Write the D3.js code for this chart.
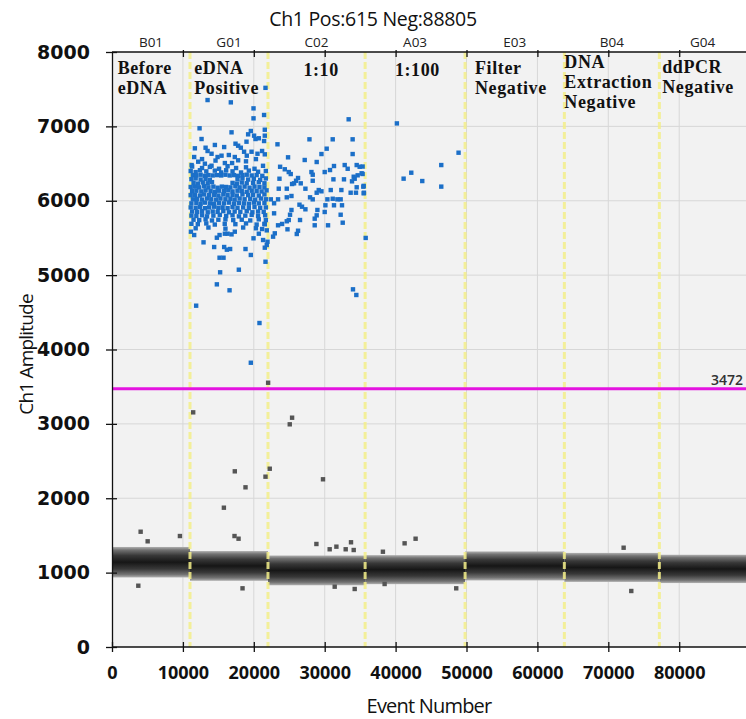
<!DOCTYPE html>
<html>
<head>
<meta charset="utf-8">
<script src="https://cdn.jsdelivr.net/npm/d3@7"></script>
<style>
  body { margin: 0; background: #fff; }
  svg { display: block; }
</style>
</head>
<body>
<svg id="chart" width="746" height="719"></svg>
<script>
// wells and their event ranges
const wells = ["B01", "G01", "C02", "A03", "E03", "B04", "G04"];
const wellEdges = [0, 11000, 22000, 35700, 49800, 63800, 77200, 89420];
// negative droplet cloud, centre and half width per well
const negCenter = [1140, 1090, 1030, 1040, 1090, 1070, 1050];
const negSpread = [205, 200, 200, 195, 195, 195, 190];
const threshold = 3472;
const posCount = 615;
const negCount = 88805;
const xTicks = [0, 10000, 20000, 30000, 40000, 50000, 60000, 70000, 80000];
const yTicks = [0, 1000, 2000, 3000, 4000, 5000, 6000, 7000, 8000];

// sample annotations written on the plot
const notes = [
  { event: 800, lines: ["Before", "eDNA"], top: 0 },
  { event: 11600, lines: ["eDNA", "Positive"], top: 0 },
  { event: 27000, lines: ["1:10"], top: 2 },
  { event: 39900, lines: ["1:100"], top: 2 },
  { event: 51200, lines: ["Filter", "Negative"], top: 0 },
  { event: 63800, lines: ["DNA", "Extraction", "Negative"], top: -6 },
  { event: 77600, lines: ["ddPCR", "Negative"], top: -1 }
];

// positive droplets [event, amplitude]
const posSparse = [
  [21650,7518],[13480,7354],[16760,7323],[19960,7242],[21450,7153],[19960,7108],[12350,6974],
  [16860,6920],[19580,6938],[19200,6893],[20040,6875],[20240,6830],[20710,6840],[21550,6955],
  [21550,6875],[21450,6803],[12630,6830],[18970,6794],[14510,6750],[17420,6767],[17790,6740],
  [18170,6713],[11690,6705],[13200,6713],[13480,6669],[14040,6632],[11590,6588],[15820,6722],
  [16480,6615],[15450,6606],[14890,6588],[18630,6659],[19010,6606],[19680,6659],[20520,6632],
  [21170,6669],[21550,6624],[17320,6588],[17790,6544],[16940,6507],[15920,6507],[12160,6525],
  [13100,6498],[14040,6471],[11230,6480],[18900,6530],[20300,6560],[12700,6560],[14600,6540]
];
const posCore = [
  [11300,6460],[12700,6440],[13800,6455],[15100,6430],[16300,6465],[17500,6440],[18900,6450],[20100,6430],[21300,6470],
  [11100,6400],[11800,6385],[12400,6410],[13300,6395],[14500,6405],[15400,6380],[16100,6410],[17000,6395],[18200,6380],[19300,6405],[20600,6390],[21700,6400],
  [11400,6345],[11900,6340],[12500,6350],[13100,6335],[13600,6345],[14200,6340],[14800,6345],[15400,6340],[16000,6350],[16600,6340],[17200,6345],[17800,6335],[18400,6345],[19000,6350],[19700,6340],[20400,6345],[21200,6335],
  [11200,6290],[11800,6300],[12500,6285],[13200,6295],[13800,6280],[17700,6290],[18400,6300],[19200,6285],[20000,6295],[20900,6280],[21700,6300],
  [11500,6240],[12100,6230],[12800,6245],[13500,6235],[14100,6250],[17000,6240],[17600,6230],[18300,6245],[19000,6235],[19900,6240],[20700,6250],[21500,6235],
  [11100,6185],[11700,6190],[12300,6180],[13000,6195],[13600,6180],[14300,6190],[14900,6175],[15500,6190],[16100,6185],[16700,6180],[17400,6195],[18000,6180],[18700,6190],[19400,6175],[20100,6190],[20800,6185],[21500,6180],
  [11300,6130],[11900,6135],[12600,6125],[13200,6140],[13900,6130],[14500,6120],[15100,6135],[15800,6130],[16400,6140],[17000,6125],[17700,6135],[18300,6130],[19000,6120],[19700,6135],[20400,6130],[21100,6125],[21800,6140],
  [11100,6075],[11700,6080],[12400,6070],[13000,6085],[13700,6075],[14400,6080],[15000,6070],[15700,6085],[16300,6075],[17000,6080],[17600,6070],[18400,6085],[19200,6075],[19900,6080],[20700,6070],[21500,6085],
  [11400,6020],[12000,6025],[12700,6015],[13400,6030],[14000,6020],[14700,6015],[15300,6030],[16000,6020],[16700,6025],[17300,6015],[18000,6030],[18700,6020],[19500,6025],[20200,6015],[21000,6030],[21700,6020],
  [11200,5965],[11900,5970],[12500,5960],[13100,5975],[13800,5965],[14400,5960],[15100,5970],[15800,5965],[16500,5975],[17200,5960],[17900,5970],[18600,5965],[19300,5960],[20000,5975],[20700,5965],[21500,5970],
  [11100,5910],[11800,5905],[12400,5915],[13100,5900],[13700,5910],[14400,5920],[15000,5905],[15600,5910],[16300,5900],[17000,5915],[17700,5905],[18500,5910],[19300,5900],[20100,5915],[20900,5905],[21700,5910],
  [11300,5855],[12000,5850],[12700,5860],[13500,5845],[14200,5855],[14900,5850],[15700,5860],[16500,5845],[17300,5855],[18100,5850],[19000,5860],[19800,5845],[20600,5855],[21400,5850],
  [11200,5800],[11900,5795],[12700,5805],[13400,5790],[14300,5800],[15200,5810],[16100,5795],[17000,5805],[17900,5790],[18800,5800],[19700,5810],[20600,5795],[21600,5805],
  [11500,5745],[12300,5740],[13200,5750],[14100,5735],[15000,5745],[16000,5750],[17100,5740],[18300,5745],[19500,5735],[20700,5750],[21700,5740],
  [11200,5690],[12100,5685],[13300,5695],[14500,5680],[15900,5690],[17400,5685],[18900,5695],[20400,5680],[21500,5690],
  [11800,5630],[13600,5640],[16000,5625],[18500,5640],[20300,5630]
];
const posLow = [
  [11130,5584],[11590,5539],[12910,5441],[14410,5378],[14790,5503],[15170,5539],[15920,5557],[16300,5557],
  [17320,5584],[16860,5548],[15820,5378],[16660,5351],[16200,5342],[15170,5234],[15730,5234],[18830,5351],
  [19580,5271],[19960,5495],[20710,5557],[21170,5620],[21550,5683],[21830,5602],[21830,5405],[21550,5369],
  [21930,5449],[21650,5180],[17890,5073],[15250,5038],[14790,4876],[16580,4796],[11870,4589],[20800,4356],
  [19580,3822],[21310,5472]
];
const posC02 = [
  [33380,7095],[23340,6759],[27850,6826],[31130,6826],[33940,6826],[30280,6700],[29540,6628],[33940,6628],
  [24830,6584],[27180,6548],[28870,6521],[32820,6480],[33240,6430],[34510,6480],[34930,6457],[35210,6369],
  [34650,6342],[34090,6323],[23710,6457],[24370,6423],[24930,6386],[25210,6359],[28130,6386],[28310,6350],
  [30000,6386],[30750,6413],[31310,6467],[23620,6296],[26240,6306],[25960,6269],[25680,6234],[25400,6225],
  [28310,6269],[31230,6288],[32720,6288],[34230,6296],[33850,6261],[35450,6189],[34510,6181],[23520,6162],
  [24650,6162],[26620,6234],[27280,6162],[29160,6144],[28870,6108],[29540,6127],[30850,6144],[32350,6144],
  [33660,6108],[34410,6108],[35540,6108],[25310,6064],[24650,6046],[27930,6046],[28310,6019],[22400,6019],
  [23420,6019],[30380,6019],[31130,6027],[31790,6019],[32250,6019],[26440,5947],[26800,5920],[27280,5885],
  [25310,5876],[28970,5876],[30100,5939],[31310,5939],[32440,5939],[22860,5966],[22860,5831],[25110,5812],
  [24930,5741],[24650,5724],[28870,5804],[28590,5759],[30000,5849],[32250,5812],[23420,5670],[23990,5688],
  [26520,5741],[28590,5670],[30470,5670],[32540,5705],[22960,5562],[24750,5616],[26240,5597],[26060,5553],
  [22720,5517],[35350,6460],[35350,6360],[35500,6200],[35500,6100],[35780,5500],[33990,4809],[34460,4733]
];
const posA03 = [
  [40180,7040],[48880,6646],[46440,6480],[42210,6377],[41130,6297],[43760,6265],[46440,6190]
];

// negative droplets outside the main cloud [event, amplitude]
const negOutliers = [
  [22020,3553],[11450,3155],[25400,3083],[25070,2994],[17320,2362],[22250,2397],[21650,2290],
  [18830,2147],[29760,2255],[15780,1873],[4040,1550],[5030,1421],[9580,1492],[17280,1492],
  [17850,1456],[28830,1385],[30700,1314],[31650,1349],[32960,1314],[33710,1408],[34090,1304],
  [38210,1281],[41270,1394],[42820,1456],[72160,1335],[3710,824],[18410,789],[31410,811],
  [34230,780],[38450,847],[48550,789],[73240,753]
];

const svg = d3.select("#chart");
const x = d3.scaleLinear().domain([0, wellEdges[wellEdges.length - 1]]).range([112, 746]);
const y = d3.scaleLinear().domain([0, 8000]).range([647, 52]);

// plot background
svg.append("rect")
  .attr("x", x(0)).attr("y", y(8000))
  .attr("width", x.range()[1] - x(0)).attr("height", y(0) - y(8000))
  .attr("fill", "#f2f2f2");

// gridlines
svg.append("g").selectAll("line").data(yTicks.slice(1, -1)).join("line")
  .attr("x1", x(0)).attr("x2", 746)
  .attr("y1", d => y(d)).attr("y2", d => y(d))
  .attr("stroke", "#d7d7d7").attr("stroke-width", 1);
svg.append("g").selectAll("line").data(xTicks.slice(1)).join("line")
  .attr("x1", d => x(d)).attr("x2", d => x(d))
  .attr("y1", y(8000)).attr("y2", y(0))
  .attr("stroke", "#d7d7d7").attr("stroke-width", 1);

// gradient for the negative cloud
const grad = svg.append("defs").append("linearGradient")
  .attr("id", "negGrad").attr("x1", 0).attr("y1", 0).attr("x2", 0).attr("y2", 1);
[[0, "#b0b0b0"], [0.1, "#727272"], [0.28, "#383838"], [0.5, "#161616"], [0.72, "#383838"], [0.9, "#727272"], [1, "#b0b0b0"]]
  .forEach(s => grad.append("stop").attr("offset", s[0]).attr("stop-color", s[1]));

svg.append("g").selectAll("rect").data(wells).join("rect")
  .attr("x", (d, i) => x(wellEdges[i]))
  .attr("width", (d, i) => x(wellEdges[i + 1]) - x(wellEdges[i]))
  .attr("y", (d, i) => y(negCenter[i] + negSpread[i]))
  .attr("height", (d, i) => y(negCenter[i] - negSpread[i]) - y(negCenter[i] + negSpread[i]))
  .attr("fill", "url(#negGrad)");

// well dividers
svg.append("g").selectAll("line").data(wellEdges.slice(1, -1)).join("line")
  .attr("x1", d => x(d)).attr("x2", d => x(d))
  .attr("y1", y(8000)).attr("y2", y(0))
  .attr("stroke", "#f4ef8a").attr("stroke-width", 3)
  .attr("stroke-dasharray", "7,3").attr("opacity", 0.85);

// droplets
const s = 4.4;
svg.append("g").selectAll("rect").data(negOutliers).join("rect")
  .attr("x", d => x(d[0]) - s / 2).attr("y", d => y(d[1]) - s / 2)
  .attr("width", s).attr("height", s).attr("fill", "#555");

const positives = posSparse.concat(posCore, posLow, posC02, posA03);
svg.append("g").selectAll("rect").data(positives).join("rect")
  .attr("x", d => x(d[0]) - s / 2).attr("y", d => y(d[1]) - s / 2)
  .attr("width", s).attr("height", s).attr("fill", "#1b6fc8");

// threshold
svg.append("line")
  .attr("x1", x(0)).attr("x2", 746)
  .attr("y1", y(threshold)).attr("y2", y(threshold))
  .attr("stroke", "#e414e0").attr("stroke-width", 3);
svg.append("text")
  .attr("x", 743).attr("y", y(threshold) - 4)
  .attr("text-anchor", "end")
  .attr("font-family", "Open Sans").attr("font-weight", 600).attr("font-size", 14)
  .attr("fill", "#333")
  .text(threshold);

// axes
const xAxis = svg.append("g").attr("transform", `translate(0,${y(0)})`)
  .call(d3.axisBottom(x).tickValues(xTicks).tickFormat(d3.format("d")).tickSizeOuter(0).tickPadding(13));
xAxis.select(".domain").attr("d", `M${x(0)},0H746`).attr("stroke", "#111").attr("stroke-width", 1.3);
xAxis.selectAll(".tick line").attr("y1", -5).attr("y2", 5).attr("stroke", "#111").attr("stroke-width", 1.3);
xAxis.selectAll("text")
  .attr("font-family", "Open Sans").attr("font-weight", 700).attr("font-size", 18).attr("fill", "#111");

const yAxis = svg.append("g").attr("transform", `translate(${x(0)},0)`)
  .call(d3.axisLeft(y).tickValues(yTicks).tickFormat(d3.format("d")).tickSizeOuter(0).tickPadding(16));
yAxis.select(".domain").attr("stroke", "#111").attr("stroke-width", 1.3);
yAxis.selectAll(".tick line").attr("x1", -6).attr("x2", 5).attr("stroke", "#111").attr("stroke-width", 1.3);
yAxis.selectAll("text")
  .attr("font-family", "DejaVu Sans").attr("font-weight", 700).attr("font-size", 19).attr("fill", "#111");

const topAxis = svg.append("g").attr("transform", `translate(0,${y(8000)})`)
  .call(d3.axisTop(x).tickValues(xTicks.slice(1)).tickFormat("").tickSizeOuter(0));
topAxis.select(".domain").attr("d", `M${x(0)},0H746`).attr("stroke", "#111").attr("stroke-width", 1.3);
topAxis.selectAll(".tick line").attr("y1", -2).attr("y2", 5).attr("stroke", "#111").attr("stroke-width", 1.3);

// well names above the plot
svg.append("g").selectAll("text").data(wells).join("text")
  .attr("x", (d, i) => x((wellEdges[i] + wellEdges[i + 1]) / 2))
  .attr("y", y(8000) - 5)
  .attr("text-anchor", "middle")
  .attr("font-family", "Open Sans").attr("font-size", 13.5).attr("fill", "#222")
  .text(d => d);

// annotations
const noteG = svg.append("g").selectAll("text").data(notes).join("text")
  .attr("font-family", "Liberation Serif").attr("font-weight", 700).attr("font-size", 18)
  .attr("letter-spacing", 0.6)
  .attr("fill", "#111");
noteG.selectAll("tspan").data(d => d.lines.map((l, k) => ({ l, k, n: d }))).join("tspan")
  .attr("x", d => x(d.n.event))
  .attr("y", d => y(8000) + 22 + d.n.top + d.k * 20)
  .text(d => d.l);

// title and axis titles
svg.append("text")
  .attr("x", 373).attr("y", 26).attr("text-anchor", "middle")
  .attr("font-family", "Open Sans").attr("font-size", 19.5).attr("fill", "#111")
  .attr("letter-spacing", -0.3)
  .text(`Ch1 Pos:${posCount} Neg:${negCount}`);

svg.append("text")
  .attr("x", (x(0) + 746) / 2).attr("y", 713).attr("text-anchor", "middle")
  .attr("font-family", "Open Sans").attr("font-size", 20).attr("fill", "#111")
  .attr("letter-spacing", -0.8)
  .text("Event Number");

svg.append("text")
  .attr("transform", `translate(33,${(y(0) + y(8000)) / 2 + 5}) rotate(-90)`)
  .attr("text-anchor", "middle")
  .attr("font-family", "Open Sans").attr("font-size", 19).attr("fill", "#111")
  .attr("letter-spacing", -0.8)
  .text("Ch1 Amplitude");
</script>
</body>
</html>
